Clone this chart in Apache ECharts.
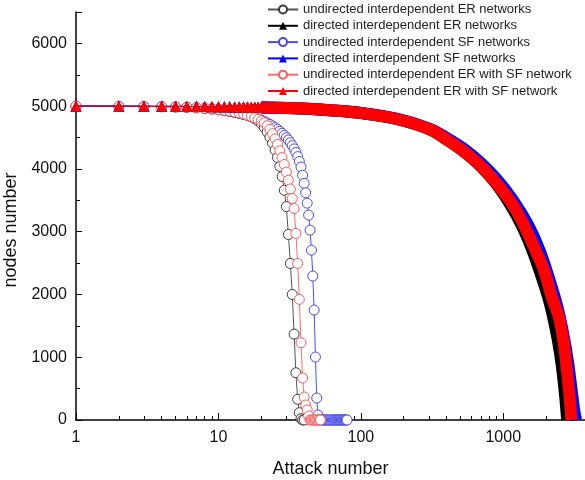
<!DOCTYPE html>
<html lang="en">
<head>
    <meta charset="UTF-8">
    <title>Attack number vs nodes number</title>
    <style>
        html, body { margin: 0; padding: 0; background: #fff; }
        #chart { width: 585px; height: 480px; }
    </style>
</head>
<body>
<div id="chart"></div>

<script src="https://cdn.jsdelivr.net/npm/echarts@6.0.0/dist/echarts.min.js"></script>
<script>
    // nodes left after each attack (attack number = index + 1)
    let undirER = [5000, 4998, 4995, 4991, 4986, 4980, 4972, 4963, 4953, 4941, 4928, 4914, 4899, 4883, 4866,
        4852, 4828, 4800, 4765, 4720, 4660, 4590, 4505, 4410, 4300, 4180, 4040, 3880, 3660, 3400,
        2956, 2494, 2000, 1369, 753, 330, 116, 20, 0, 0];
    let undirSF = [5000, 4998, 4996, 4992, 4988, 4983, 4977, 4969, 4960, 4950, 4939, 4927, 4914, 4900, 4885,
        4857, 4839, 4820, 4800, 4779, 4757, 4734, 4710, 4685, 4658, 4630, 4600, 4568, 4534, 4498,
        4460, 4418, 4372, 4320, 4262, 4196, 4120, 4030, 3900, 3770, 3620, 3455, 3264, 3025, 2707,
        2293, 1752, 1003, 350, 80, 0, 0, 0, 0, 0, 0, 0, 0, 0, 0, 0, 0, 0, 0, 0, 0, 0, 0, 0, 0,
        0, 0, 0, 0, 0, 0, 0, 0, 0, 0];
    let undirERSF = [5000, 4998, 4995, 4991, 4987, 4981, 4974, 4966, 4957, 4946, 4934, 4921, 4907, 4892, 4876,
        4856, 4836, 4814, 4790, 4764, 4733, 4690, 4630, 4560, 4480, 4390, 4290, 4180, 4070, 3950,
        3820, 3680, 3530, 3370, 2973, 2495, 1922, 1231, 669, 366, 239, 159, 64, 0, 0, 0, 0, 0, 0,
        0, 0, 0];

    // directed networks: first attacks, one triangle each
    let dirERHead = [5000, 4999, 4998, 4997, 4996, 4995, 4994, 4993, 4992, 4991, 4990, 4989,
        4988, 4987, 4986, 4985, 4984, 4983, 4982, 4981, 4980, 4979, 4978, 4977];
    let dirSFHead = [5000, 4999, 4998, 4997, 4996, 4995, 4994, 4993, 4992, 4991, 4990, 4989,
        4988, 4987, 4986, 4985, 4984, 4983, 4982, 4981, 4980, 4979, 4978, 4977];
    let dirERSFHead = [5000, 4999, 4998, 4997, 4996, 4995, 4994, 4993, 4992, 4991, 4990, 4989,
        4988, 4987, 4986, 4985, 4984, 4983, 4982, 4981, 4980, 4979, 4978, 4977];

    // directed networks: the dense part (points read along the thick band)
    let dirERBandX = [20, 30, 45, 60, 100, 178, 305, 400, 520, 684, 896, 1130, 1370, 1605, 1850, 2100, 2335, 2510, 2645, 2740, 2810];
    let dirERBandY = [4980, 4970, 4955, 4936, 4890, 4795, 4630, 4470, 4290, 4060, 3760, 3420, 3070, 2700, 2300, 1900, 1450, 1050, 650, 300, 0];
    let dirSFBandX = [20, 30, 45, 60, 100, 178, 305, 400, 520, 684, 896, 1172, 1500, 1800, 2100, 2400, 2650, 2860, 3030, 3150, 3250];
    let dirSFBandY = [4980, 4970, 4955, 4936, 4892, 4800, 4640, 4495, 4330, 4110, 3840, 3500, 3100, 2700, 2250, 1800, 1350, 900, 450, 150, 0];
    let dirERSFBandX = [20, 30, 45, 60, 100, 178, 305, 400, 520, 684, 896, 1172, 1400, 1650, 1923, 2200, 2450, 2650, 2805, 2920, 3011];
    let dirERSFBandY = [4980, 4970, 4955, 4936, 4890, 4795, 4630, 4470, 4290, 4060, 3770, 3420, 3100, 2750, 2400, 1950, 1650, 1250, 770, 380, 0];

    let xTickLabels = [1, 10, 100, 1000];
    let xMinorTicks = [2, 3, 4, 5, 6, 7, 8, 9, 20, 30, 40, 50, 60, 70, 80, 90,
        200, 300, 400, 500, 600, 700, 800, 900, 2000, 3000];

    let names = [
        'undirected interdependent ER networks',
        'directed interdependent ER networks',
        'undirected interdependent SF networks',
        'directed interdependent SF networks',
        'undirected interdependent ER with SF network',
        'directed interdependent ER with SF network'
    ];

    function byAttack(values) {
        return values.map((v, i) => [i + 1, v]);
    }
    function pairs(xs, ys) {
        return xs.map((x, i) => [x, ys[i]]);
    }

    function undirected(name, values, symbolColor, lineColor) {
        return {
            name: name, type: 'line', data: byAttack(values),
            symbol: 'circle', symbolSize: 10, showAllSymbol: true,
            itemStyle: { color: '#fff', borderColor: symbolColor, borderWidth: 1 },
            lineStyle: { color: lineColor, width: 1 },
            z: 2
        };
    }
    function directedHead(name, values, color) {
        return {
            name: name, type: 'line', data: byAttack(values),
            symbol: 'triangle', symbolSize: 11, showAllSymbol: true,
            itemStyle: { color: color },
            lineStyle: { color: color, width: 1 },
            z: 4
        };
    }
    function directedBand(name, xs, ys, color) {
        return {
            name: name, type: 'line', data: pairs(xs, ys),
            symbol: 'none', smooth: 0.35,
            itemStyle: { color: color },
            lineStyle: { color: color, width: 12 },
            z: 3
        };
    }

    let font = 'Liberation Sans, Arial, sans-serif';
    let chart = echarts.init(document.getElementById('chart'));

    let option = {
        animation: false,
        textStyle: { fontFamily: font },
        grid: { left: 76, right: 0, top: 12, bottom: 60, containLabel: false, outerBoundsMode: 'none' },
        legend: {
            orient: 'vertical', left: 262, top: -2,
            itemWidth: 30, itemHeight: 10, itemGap: 3.3,
            textStyle: { fontSize: 13, color: '#222', fontFamily: font },
            data: names
        },
        xAxis: [{
            type: 'log', min: 1, max: 3750, logBase: 10,
            name: 'Attack number', nameLocation: 'middle', nameGap: 40,
            nameTextStyle: { fontSize: 18, color: '#111', fontFamily: font },
            axisLine: { lineStyle: { color: '#000', width: 1.5 } },
            axisTick: { inside: true, length: 7, customValues: xTickLabels, lineStyle: { color: '#000' } },
            axisLabel: {
                fontSize: 16, color: '#111', margin: 10, customValues: xTickLabels,
                formatter: v => xTickLabels.includes(v) ? String(v) : ''
            },
            splitLine: { show: false }
        }, {
            type: 'log', min: 1, max: 3750, logBase: 10, position: 'bottom',
            axisLine: { show: false },
            axisTick: { inside: true, length: 4, customValues: xMinorTicks, lineStyle: { color: '#000' } },
            axisLabel: { show: false },
            splitLine: { show: false }
        }],
        yAxis: {
            type: 'value', min: 0, max: 6500, interval: 1000,
            name: 'nodes number', nameLocation: 'middle', nameGap: 56,
            nameTextStyle: { fontSize: 18, color: '#111', fontFamily: font, padding: [0, 28, 0, 0] },
            axisLine: { show: true, lineStyle: { color: '#000', width: 1.5 } },
            axisTick: { inside: true, length: 6, lineStyle: { color: '#000' } },
            minorTick: { show: true, splitNumber: 2, length: 4, lineStyle: { color: '#000' } },
            axisLabel: { fontSize: 16, color: '#111', margin: 9, showMaxLabel: false, formatter: v => String(v) },
            splitLine: { show: false }
        },
        series: [
            undirected(names[0], undirER, '#3a3a3a', '#555555'),
            directedHead(names[1], dirERHead, '#000000'),
            undirected(names[2], undirSF, '#4a4ae8', '#4a4aff'),
            directedHead(names[3], dirSFHead, '#0000ff'),
            undirected(names[4], undirERSF, '#f25c5c', '#ff6a6a'),
            directedHead(names[5], dirERSFHead, '#ff0000'),
            directedBand(names[1], dirERBandX, dirERBandY, '#000000'),
            directedBand(names[3], dirSFBandX, dirSFBandY, '#0000ff'),
            directedBand(names[5], dirERSFBandX, dirERSFBandY, '#ff0000')
        ]
    };

    chart.setOption(option);
</script>
</body>
</html>
